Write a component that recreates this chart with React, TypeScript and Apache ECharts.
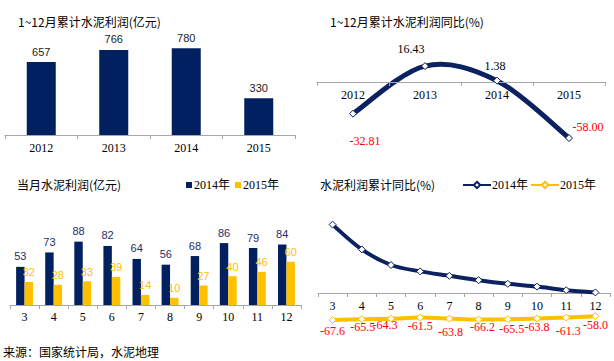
import React, { useEffect, useRef } from 'react';
import * as echarts from 'echarts';

const yearCats = ['2012', '2013', '2014', '2015'];
const annualProfit = [657, 766, 780, 330];
const annualYoY = [-32.81, 16.43, 1.38, -58.0];
const monthCats = ['3', '4', '5', '6', '7', '8', '9', '10', '11', '12'];
const monthly2014 = [53, 73, 88, 82, 64, 56, 68, 86, 79, 84];
const monthly2015 = [32, 28, 33, 39, 14, 10, 27, 40, 46, 60];
const cumYoY2014 = [171, 109, 70, 54, 43, 32, 23, 16, 7, 1.38];
const cumYoY2015 = [-67.6, -65.5, -64.3, -61.5, -63.8, -66.2, -65.5, -63.8, -61.3, -58.0];

// label nudges (styling only)
const yoyLabelOffsets = [[12, 27], [-14, -17], [-2, -15], [19, -11]];
const cum15LabelOffsets = [[0, 11], [1, 8], [-6, 6], [0, 8], [1, 13], [4, 8], [4, 10], [0, 8], [2, 13], [0, 9]];

const NAVY = '#002060';
const LINE_NAVY = '#0b2160';
const GOLD = '#ffc000';
const RED = '#ff0000';
const SERIF = '"Liberation Serif", "Times New Roman", "Noto Sans CJK SC", serif';
const SANS = '"Liberation Sans", Arial, sans-serif';
const CJK = '"Noto Sans CJK SC", sans-serif';
const AXIS_GRAY = '#a6a6a6';

function xCat(gridIndex: number, data: string[], margin: number) {
  return {
    type: 'category',
    gridIndex,
    data,
    boundaryGap: true,
    axisLine: { show: true, lineStyle: { color: AXIS_GRAY, width: 1 } },
    axisTick: { show: true, length: 4, lineStyle: { color: AXIS_GRAY } },
    axisLabel: { margin, fontFamily: SERIF, fontSize: 12, color: '#000' },
    splitLine: { show: false },
    z: 3,
  };
}

function yVal(gridIndex: number, min: number, max: number) {
  return { type: 'value', gridIndex, min, max, show: false, splitLine: { show: false } };
}

function titleAt(text: string, left: number, top: number) {
  return {
    text,
    left,
    top,
    padding: 0,
    textStyle: { fontSize: 12, fontWeight: 'normal', fontFamily: CJK, color: '#000' },
  };
}

// Excel-like smoothed curve (Catmull-Rom through the data points)
function renderSmoothCurve(params: any, api: any) {
  if (params.dataIndexInside !== 0) return null;
  const n = params.dataInsideLength;
  const pts: number[][] = [];
  for (let i = 0; i < n; i++) pts.push(api.coord([api.value(0, i), api.value(1, i)]));
  const children: any[] = [];
  for (let i = 0; i < n - 1; i++) {
    const p0 = pts[Math.max(i - 1, 0)];
    const p1 = pts[i];
    const p2 = pts[i + 1];
    const p3 = pts[Math.min(i + 2, n - 1)];
    children.push({
      type: 'bezierCurve',
      shape: {
        x1: p1[0],
        y1: p1[1],
        x2: p2[0],
        y2: p2[1],
        cpx1: p1[0] + (p2[0] - p0[0]) / 6,
        cpy1: p1[1] + (p2[1] - p0[1]) / 6,
        cpx2: p2[0] - (p3[0] - p1[0]) / 6,
        cpy2: p2[1] - (p3[1] - p1[1]) / 6,
      },
      style: { stroke: LINE_NAVY, lineWidth: 5, fill: null, lineCap: 'round' },
    });
  }
  return { type: 'group', children };
}

export default function App() {
  const ref = useRef<HTMLDivElement>(null);
  useEffect(() => {
    if (!ref.current) return;
    const chart = echarts.init(ref.current, undefined, { renderer: 'svg' });
    const option: any = {
      animation: false,
      backgroundColor: '#ffffff',
      title: [
        titleAt('1~12月累计水泥利润(亿元)', 18, 15),
        titleAt('1~12月累计水泥利润同比(%)', 330, 15),
        titleAt('当月水泥利润(亿元)', 17, 178),
        titleAt('水泥利润累计同比(%)', 320, 178),
        titleAt('来源：国家统计局，水泥地理', 3, 345),
      ],
      legend: [
        {
          data: ['2014年', '2015年'],
          left: 186,
          top: 179,
          padding: 0,
          itemWidth: 6,
          itemHeight: 6,
          itemGap: 5,
          icon: 'rect',
          textStyle: { fontFamily: SERIF, fontSize: 12, color: '#000', padding: [0, 0, 0, -3] },
        },
        {
          data: ['2014年累计', '2015年累计'],
          formatter: (n: string) => n.replace('累计', ''),
          left: 462,
          top: 179,
          padding: 0,
          itemWidth: 28,
          itemHeight: 8,
          itemGap: 2,
          textStyle: { fontFamily: SERIF, fontSize: 12, color: '#000', padding: [0, 0, 0, -4] },
        },
      ],
      // grids end at the zero line; negative values are drawn below them (clip off)
      grid: [
        { left: 5, top: 35, width: 290, height: 100 },
        { left: 317, top: 53, width: 288, height: 29 },
        { left: 10, top: 233, width: 291, height: 72 },
        { left: 318, top: 221, width: 292, height: 72 },
      ],
      xAxis: [
        xCat(0, yearCats, 7),
        xCat(1, yearCats, 7),
        xCat(2, monthCats, 6),
        xCat(3, monthCats, 7),
      ],
      yAxis: [yVal(0, 0, 900), yVal(1, 0, 30), yVal(2, 0, 100), yVal(3, 0, 180)],
      series: [
        {
          type: 'bar',
          name: '累计利润',
          xAxisIndex: 0,
          yAxisIndex: 0,
          data: annualProfit,
          barWidth: 29,
          itemStyle: { color: NAVY },
          label: { show: true, position: 'top', distance: 5, fontFamily: SANS, fontSize: 11, color: '#1a1a1a' },
        },
        {
          type: 'custom',
          name: '累计同比曲线',
          xAxisIndex: 1,
          yAxisIndex: 1,
          z: 2,
          clip: false,
          encode: { x: 0, y: 1 },
          renderItem: renderSmoothCurve,
          data: annualYoY.map((v, i) => [i, v]),
        },
        {
          type: 'line',
          name: '累计同比',
          xAxisIndex: 1,
          yAxisIndex: 1,
          z: 4,
          clip: false,
          symbol: 'diamond',
          symbolSize: 7,
          itemStyle: { color: '#ffffff', borderColor: LINE_NAVY, borderWidth: 1 },
          lineStyle: { opacity: 0, width: 0 },
          data: annualYoY.map((v, i) => ({
            value: v,
            label: {
              show: true,
              position: 'inside',
              offset: yoyLabelOffsets[i],
              color: v < 0 ? RED : '#000',
            },
          })),
          label: {
            show: true,
            fontFamily: SERIF,
            fontSize: 12,
            formatter: (p: any) => Number(p.value).toFixed(2),
          },
        },
        {
          type: 'bar',
          name: '2014年',
          xAxisIndex: 2,
          yAxisIndex: 2,
          data: monthly2014,
          barCategoryGap: '42%',
          barGap: '0%',
          itemStyle: { color: NAVY },
          label: { show: true, position: 'top', distance: 5, fontFamily: SANS, fontSize: 11, color: '#1f2d6b' },
        },
        {
          type: 'bar',
          name: '2015年',
          xAxisIndex: 2,
          yAxisIndex: 2,
          data: monthly2015,
          barCategoryGap: '42%',
          barGap: '0%',
          itemStyle: { color: GOLD },
          label: { show: true, position: 'top', distance: 4, fontFamily: SANS, fontSize: 11, color: GOLD },
        },
        {
          type: 'line',
          name: '2014年累计',
          xAxisIndex: 3,
          yAxisIndex: 3,
          clip: false,
          smooth: 0.3,
          symbol: 'diamond',
          symbolSize: 7,
          itemStyle: { color: '#ffffff', borderColor: LINE_NAVY, borderWidth: 1 },
          lineStyle: { color: LINE_NAVY, width: 4 },
          data: cumYoY2014,
        },
        {
          type: 'line',
          name: '2015年累计',
          xAxisIndex: 3,
          yAxisIndex: 3,
          clip: false,
          smooth: 0.3,
          symbol: 'diamond',
          symbolSize: 7,
          itemStyle: { color: '#ffffff', borderColor: GOLD, borderWidth: 1 },
          lineStyle: { color: GOLD, width: 4 },
          data: cumYoY2015.map((v, i) => ({
            value: v,
            label: { show: true, position: 'inside', offset: cum15LabelOffsets[i] },
          })),
          label: {
            show: true,
            fontFamily: SERIF,
            fontSize: 12,
            color: RED,
            formatter: (p: any) => Number(p.value).toFixed(1),
          },
        },
      ],
    };
    chart.setOption(option);
    return () => chart.dispose();
  }, []);
  return (
    <div
      ref={ref}
      style={{ position: 'fixed', left: 0, top: 0, width: 614, height: 361, background: '#fff' }}
    />
  );
}
